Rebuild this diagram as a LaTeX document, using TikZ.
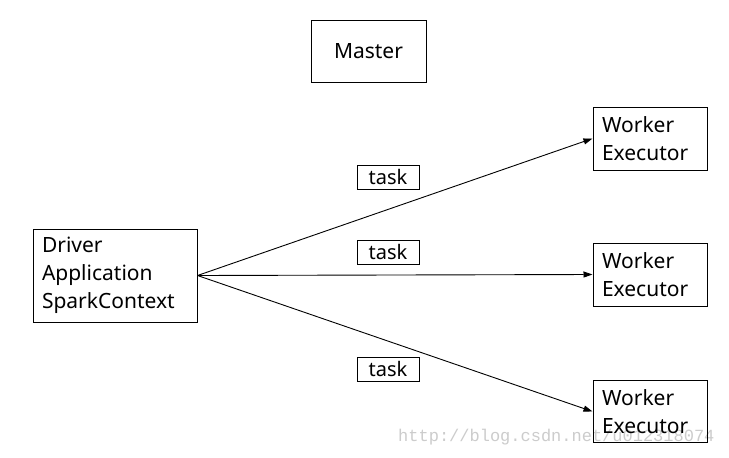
\documentclass[tikz,border=0pt]{standalone}
\usepackage{fontspec}
\setmainfont{Noto Sans}
\newfontfamily\wmfont{Liberation Mono}
\usetikzlibrary{arrows.meta}
\begin{document}
\begin{tikzpicture}[x=1pt,y=-1pt,
  box/.style={draw=black,line width=1pt,inner sep=0pt,font=\fontsize{21}{28}\selectfont},
  multibox/.style={draw=black,line width=1pt,inner ysep=0pt,inner xsep=9pt,align=left,text width=#1,font=\fontsize{21}{28}\selectfont},
  taskbox/.style={draw=black,line width=1pt,fill=white,inner sep=0pt,minimum width=62pt,minimum height=24pt,font=\fontsize{20}{24}\selectfont},
  conn/.style={line width=0.9pt,-{Triangle[length=9pt,width=6pt]}}]
\fill[white] (0,0) rectangle (729,458);
\useasboundingbox (0,0) rectangle (729,458);
% watermark
\node[anchor=west,text=black!20,font=\wmfont\fontsize{17}{20}\selectfont,inner sep=0pt] (wm) at (398,437) {http://blog.csdn.net/u012318074};
% boxes
\node[box,minimum width=115pt,minimum height=62pt] (master) at (368.5,51) {Master};
\node[multibox=146pt,minimum height=93pt] (driver) at (115,275.5) {Driver\\Application\\SparkContext};
\node[multibox=96pt,minimum height=63pt] (w1) at (650,138.5) {Worker\\Executor};
\node[multibox=96pt,minimum height=63pt] (w2) at (650,274.5) {Worker\\Executor};
\node[multibox=96pt,minimum height=62pt] (w3) at (650,411.5) {Worker\\Executor};
% task labels
\node[taskbox] (t1) at (388,177) {task};
\node[taskbox] (t2) at (388,252) {task};
\node[taskbox] (t3) at (388,369) {task};
% arrows
\coordinate (src) at (driver.east);
\draw[conn] (src) -- (w1.west);
\draw[conn] (src) -- (w2.west);
\draw[conn] (src) -- (w3.west);
\end{tikzpicture}
\end{document}
